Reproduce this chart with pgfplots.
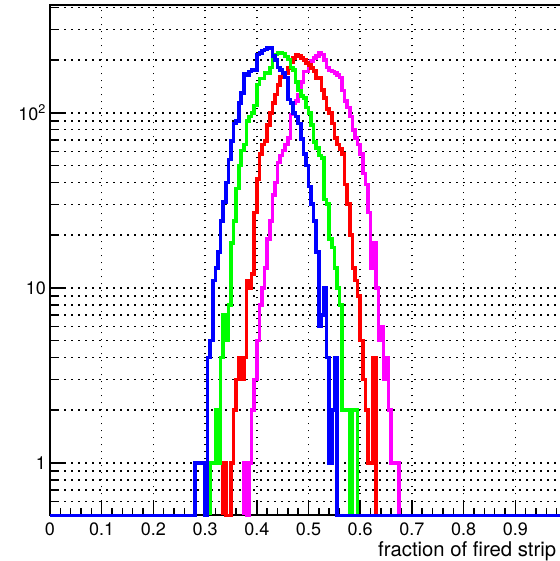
\documentclass[border=0pt]{standalone}
\usepackage{fontspec}
\setmainfont{TeX Gyre Heros}
\usepackage{pgfplots}
\usepackage{pgfplotstable}
\pgfplotsset{compat=1.18}

\definecolor{hblue}{RGB}{0,0,255}
\definecolor{hgreen}{RGB}{0,255,0}
\definecolor{hred}{RGB}{255,0,0}
\definecolor{hmagenta}{RGB}{255,0,255}

% Bin contents per 0.005 bin (lower edge, count); empty bins sit at the axis floor 0.5
\pgfplotstableread{
x y
0 0.5
0.28 1
0.285 1
0.29 1
0.295 1
0.30 0.5
0.305 4
0.31 5
0.315 11
0.32 13
0.325 16
0.33 24
0.335 31
0.34 40
0.345 54
0.35 69
0.355 87
0.36 90
0.365 114
0.37 130
0.375 167
0.38 165
0.385 172
0.39 175
0.395 176
0.40 215
0.405 220
0.41 227
0.415 230
0.42 234
0.425 234
0.43 211
0.435 200
0.44 181
0.445 175
0.45 169
0.455 159
0.46 119
0.465 114
0.47 100
0.475 95
0.48 87
0.485 71
0.49 58
0.495 50
0.50 38
0.505 30
0.51 24
0.515 16
0.52 6
0.525 7
0.53 10
0.535 4
0.54 1
0.545 2
0.55 4
0.555 0.5
1.0 0.5
}\histblue

\pgfplotstableread{
x y
0.31 0.5
0.31 1
0.315 1
0.32 2
0.325 1
0.33 4
0.335 7
0.34 5
0.345 8
0.35 18
0.355 24
0.36 37
0.365 50
0.37 61
0.375 66
0.38 90
0.385 95
0.39 100
0.395 110
0.40 145
0.405 157
0.41 157
0.415 169
0.42 169
0.425 181
0.43 210
0.435 215
0.44 220
0.445 220
0.45 218
0.455 210
0.46 202
0.465 181
0.47 175
0.475 150
0.48 134
0.485 125
0.49 121
0.495 107
0.50 100
0.505 85
0.51 68
0.515 63
0.52 57
0.525 55
0.53 32
0.535 30
0.54 19
0.545 17
0.55 13
0.555 10
0.56 8
0.565 2
0.57 2
0.575 2
0.58 0.5
0.585 2
0.59 2
0.595 0.5
}\histgreen

\pgfplotstableread{
x y
0.335 0.5
0.335 1
0.34 0.5
0.345 0.5
0.35 1
0.355 2
0.36 3
0.365 4
0.37 3
0.375 4
0.38 11
0.385 10
0.39 12
0.395 27
0.40 42
0.405 58
0.41 66
0.415 69
0.42 85
0.425 100
0.43 114
0.435 127
0.44 144
0.445 160
0.45 169
0.455 169
0.46 180
0.465 195
0.47 205
0.475 215
0.48 211
0.485 205
0.49 200
0.495 192
0.50 188
0.505 180
0.51 173
0.515 158
0.52 158
0.525 135
0.53 121
0.535 105
0.54 100
0.545 87
0.55 72
0.555 66
0.56 62
0.565 58
0.57 39
0.575 30
0.58 20
0.585 13
0.59 11
0.595 9
0.60 5
0.605 3
0.61 2
0.615 1
0.62 1
0.625 4
0.63 0.5
}\histred

\pgfplotstableread{
x y
0.375 0.5
0.375 1
0.38 0.5
0.385 1
0.39 2
0.395 3
0.40 5
0.405 8
0.41 10
0.415 13
0.42 19
0.425 24
0.43 34
0.435 40
0.44 52
0.445 57
0.45 61
0.455 66
0.46 72
0.465 98
0.47 114
0.475 117
0.48 127
0.485 150
0.49 172
0.495 172
0.50 180
0.505 197
0.51 205
0.515 211
0.52 220
0.525 215
0.53 200
0.535 181
0.54 174
0.545 172
0.55 169
0.555 165
0.56 159
0.565 134
0.57 117
0.575 107
0.58 95
0.585 80
0.59 72
0.595 66
0.60 58
0.605 45
0.61 39
0.615 27
0.62 13
0.625 18
0.63 10
0.635 5
0.64 6
0.645 3
0.65 4
0.655 2
0.66 1
0.665 1
0.67 1
0.675 0.5
}\histmagenta

\begin{document}
\begin{tikzpicture}[x=1pt,y=1pt]
\begin{axis}[
  at={(50pt,45.5pt)}, anchor=south west,
  scale only axis, width=517pt, height=510.5pt,
  xmin=0, xmax=1, ymin=0.5, ymax=413,
  ymode=log,
  clip=false,
  axis line style={line width=2pt},
  tick pos=left, tick align=inside,
  xtick={0,0.1,0.2,0.3,0.4,0.5,0.6,0.7,0.8,0.9,1},
  xticklabels={0,0.1,0.2,0.3,0.4,0.5,0.6,0.7,0.8,0.9,},
  minor x tick num=4,
  ytick={1,10,100},
  yticklabels={1,10,10\textsuperscript{2}},
  minor ytick={0.6,0.7,0.8,0.9,2,3,4,5,6,7,8,9,20,30,40,50,60,70,80,90,200,300,400},
  xmajorgrids, ymajorgrids, yminorgrids,
  major grid style={black, line width=1.5pt, dash pattern=on 1.5pt off 5.5pt},
  minor grid style={black, line width=1.5pt, dash pattern=on 1.5pt off 5.5pt},
  major tick length=16pt, minor tick length=8pt,
  tick style={black, line width=1.5pt},
  ticklabel style={font=\fontsize{18}{20}\selectfont},
  xticklabel style={yshift=-3.5pt},
  yticklabel style={xshift=-0.5pt},
  xlabel={fraction of fired strip},
  xlabel style={at={(axis description cs:0.6345,-0.0800)}, anchor=base west,
    inner sep=0pt, font=\fontsize{20.3}{24}\selectfont},
  every axis plot/.append style={const plot mark left, no marks, line width=3.6pt},
]
\addplot[hmagenta] table {\histmagenta};
\addplot[hred] table {\histred};
\addplot[hgreen] table {\histgreen};
\addplot[hblue] table {\histblue};
\end{axis}
\pgfresetboundingbox
\useasboundingbox (0,0) rectangle (559pt,561pt);
\end{tikzpicture}
\end{document}
